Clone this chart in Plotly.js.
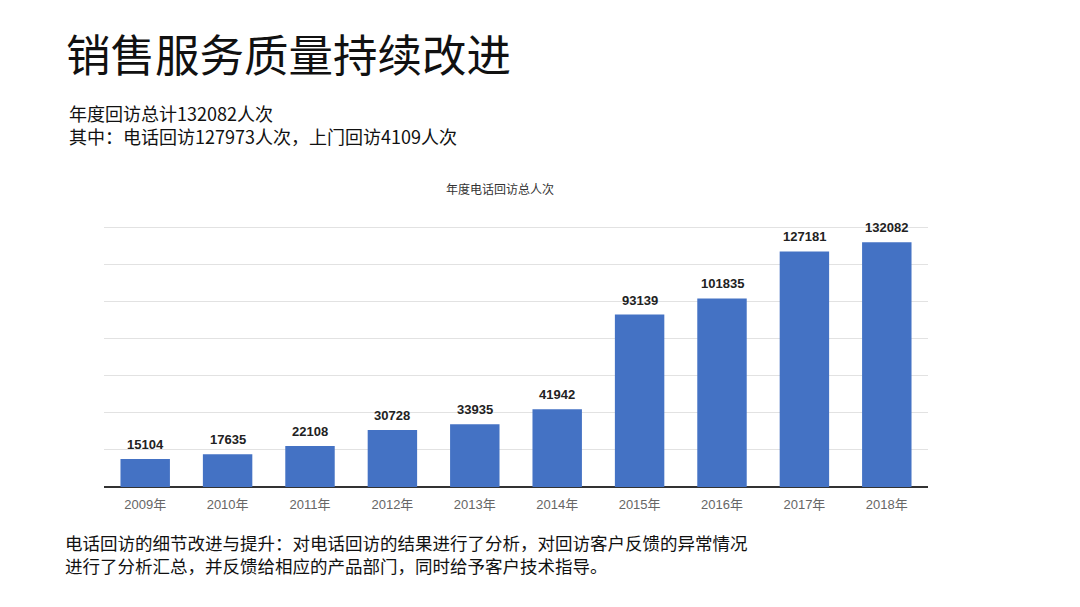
<!DOCTYPE html>
<html>
<head>
<meta charset="utf-8">
<script src="https://cdn.plot.ly/plotly-3.0.1.min.js"></script>
<style>html,body{margin:0;padding:0;background:#fff;}#chart{width:1080px;height:607px;}</style>
</head>
<body>
<div id="chart"></div>
<script>
const years = ["2009年","2010年","2011年","2012年","2013年","2014年","2015年","2016年","2017年","2018年"];
const calls = [15104, 17635, 22108, 30728, 33935, 41942, 93139, 101835, 127181, 132082];
const pageTitle = "销售服务质量持续改进";
const summaryLines = ["年度回访总计132082人次", "其中：电话回访127973人次，上门回访4109人次"];
const chartTitle = "年度电话回访总人次";
const noteLines = ["电话回访的细节改进与提升：对电话回访的结果进行了分析，对回访客户反馈的异常情况", "进行了分析汇总，并反馈给相应的产品部门，同时给予客户技术指导。"];

const W = 1080, H = 607;
const L = 104, R = 928, T = 224, B = 487;
const px = x => (x - L) / (R - L);
const py = y => (B - y) / (B - T);
const cjk = "Noto Sans CJK SC, Noto Sans, sans-serif";

const trace = {
  type: "bar",
  x: years,
  y: calls,
  marker: {color: "#4472C4"},
  hoverinfo: "none"
};

const ann = [
  {text: summaryLines.join("<br>"), x: px(67), y: py(124), font: {family: cjk, size: 18, color: "#111"}},
  {text: noteLines.join("<br>"), x: px(63), y: py(553.5), font: {family: cjk, size: 17.5, color: "#111"}}
].map(a => Object.assign({xref: "paper", yref: "paper", xanchor: "left", yanchor: "middle", align: "left", showarrow: false}, a));

ann.push({text: pageTitle, xref: "paper", yref: "paper", x: px(64), y: py(52), xanchor: "left", yanchor: "middle",
  showarrow: false, font: {family: cjk, size: 44.5, color: "#111"}});
ann.push({text: chartTitle, xref: "paper", yref: "paper", x: px(500), y: py(188), xanchor: "center", yanchor: "middle",
  showarrow: false, font: {family: cjk, size: 12, color: "#333"}});

years.forEach((yr, i) => {
  ann.push({text: String(calls[i]), x: yr, y: calls[i], xref: "x", yref: "y", xanchor: "center", yanchor: "bottom",
    yshift: 5, showarrow: false,
    font: {family: "Liberation Sans, Arial, sans-serif", size: 13, color: "#222", weight: "bold"}});
});

const layout = {
  width: W, height: H,
  margin: {l: L, r: W - R, t: T, b: H - B, pad: 0},
  paper_bgcolor: "#fff", plot_bgcolor: "#fff",
  showlegend: false,
  bargap: 0.4,
  xaxis: {
    type: "category",
    tickfont: {family: "Liberation Sans, Noto Sans CJK SC, sans-serif", size: 13, color: "#666"},
    ticks: "", ticklabelstandoff: 8, showgrid: false, showline: false, fixedrange: true
  },
  yaxis: {
    range: [0, 142000], dtick: 20000, showticklabels: false, ticks: "",
    gridcolor: "#e2e2e2", gridwidth: 1,
    zeroline: true, zerolinecolor: "#333", zerolinewidth: 2, fixedrange: true
  },
  annotations: ann
};

Plotly.newPlot("chart", [trace], layout, {staticPlot: true, displayModeBar: false});
</script>
</body>
</html>
